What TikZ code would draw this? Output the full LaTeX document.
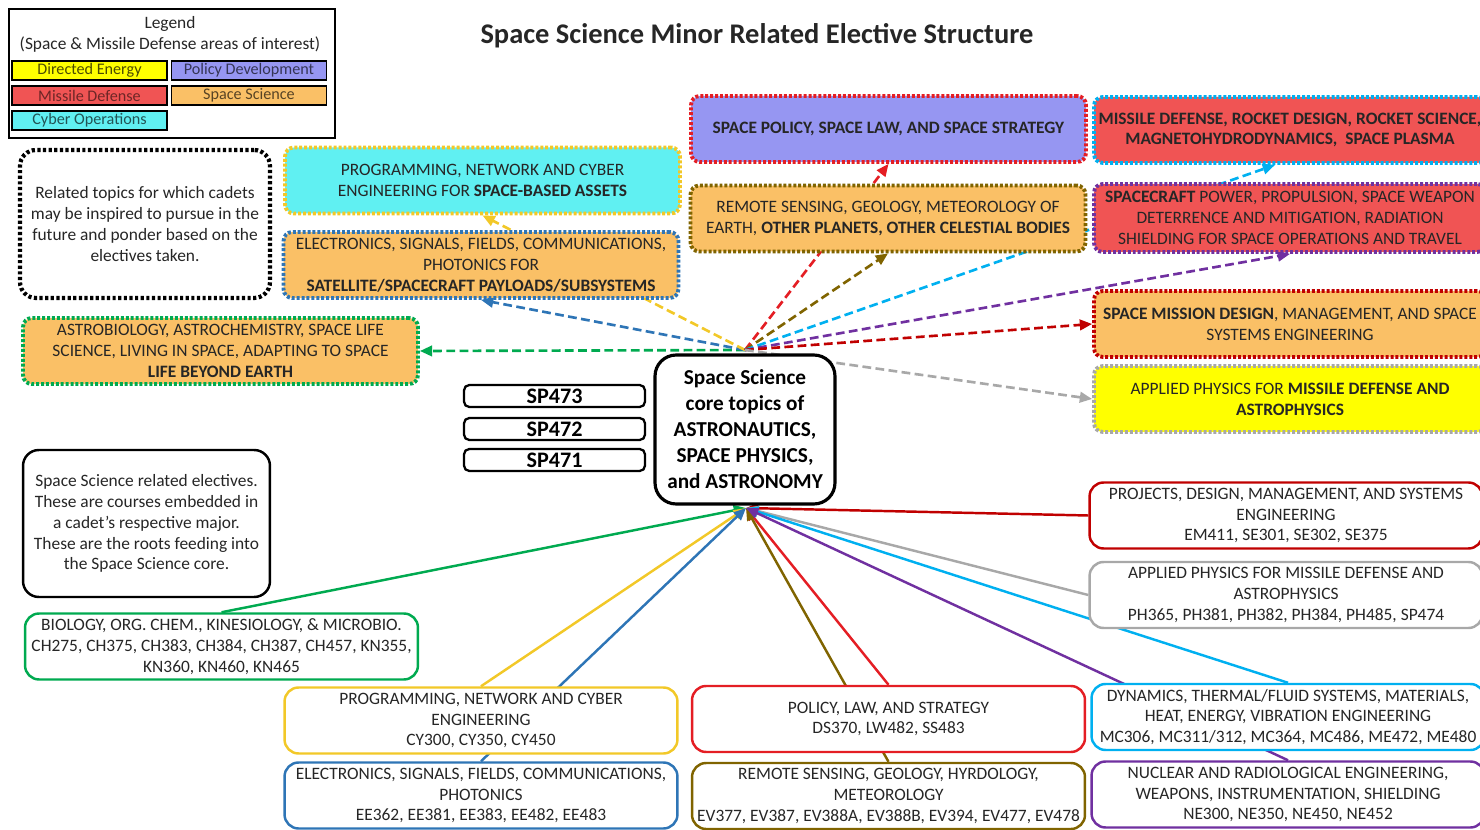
\documentclass[tikz,border=0pt]{standalone}
\usepackage{fontspec}
\setmainfont{Carlito}
\usetikzlibrary{arrows.meta,backgrounds}

% fills of the areas of interest
\definecolor{cYellow}{RGB}{255,255,0}
\definecolor{cPurple}{RGB}{150,150,242}
\definecolor{cRed}{RGB}{240,84,84}
\definecolor{cOrange}{RGB}{250,192,102}
\definecolor{cCyan}{RGB}{96,240,242}
% connector colours
\definecolor{lGreen}{RGB}{0,170,80}
\definecolor{lBlue}{RGB}{46,117,182}
\definecolor{lGold}{RGB}{242,200,40}
\definecolor{lRed}{RGB}{228,30,36}
\definecolor{lDarkRed}{RGB}{192,0,0}
\definecolor{lOlive}{RGB}{128,100,0}
\definecolor{lCyan}{RGB}{0,176,240}
\definecolor{lPurple}{RGB}{112,48,160}
\definecolor{lGray}{RGB}{168,168,168}
\definecolor{txt}{RGB}{38,38,38}

\newcommand\boxfont{\fontsize{9.9}{11.9}\selectfont}
\newcommand\corefont{\fontsize{12.1}{14.8}\selectfont\bfseries}

\tikzset{
  topic/.style={rounded corners=5pt, line width=2.2pt, dash pattern=on 1.7pt off 1.1pt,
    align=center, minimum width=7.9cm, minimum height=1.32cm, inner sep=1pt, text=txt, font=\boxfont},
  course/.style={draw, rounded corners=8pt, line width=1.4pt, fill=white, align=center,
    minimum width=7.86cm, minimum height=1.32cm, inner sep=1pt, text=txt, font=\boxfont},
  note/.style={draw=black, rounded corners=9pt, fill=white, align=center, text=txt, font=\boxfont},
  key/.style={draw=black, line width=1pt, minimum width=3.1cm, minimum height=0.38cm, inner sep=0pt,
    font=\fontsize{9.2}{11}\selectfont},
  spbox/.style={draw, line width=1.3pt, rounded corners=3pt, minimum width=3.62cm, minimum height=0.44cm,
    inner sep=0pt, font=\fontsize{12.6}{12.6}\selectfont\bfseries},
  feed/.style={line width=1.4pt, -{Triangle[length=7pt,width=6pt]}},
  inspire/.style={line width=1.5pt, dash pattern=on 5pt off 2.5pt, -{Triangle[length=7pt,width=6pt]}},
}

\begin{document}
\begin{tikzpicture}[x=0.02cm,y=-0.02cm]
\useasboundingbox (0,0) rectangle (1480,830);

% Legend
\node[draw, line width=0.8pt, minimum width=6.52cm, minimum height=2.58cm] (legend) at (172,73.5) {};
\node[align=center, font=\boxfont, text=txt] (legendTitle) at (170,34.5) {Legend\\(Space \& Missile Defense areas of interest)};
\node[key, fill=cYellow, text=cYellow!30!black] (keyDE) at (89.5,70.5) {Directed Energy};
\node[key, fill=cPurple, text=cPurple!35!black] (keyPD) at (249,70.5) {Policy Development};
\node[key, fill=cRed, text=cRed!45!black] (keyMD) at (89.5,95.5) {Missile Defense};
\node[key, fill=cOrange, text=cOrange!35!black] (keySS) at (249,95.5) {Space Science};
\node[key, fill=cCyan, text=cCyan!35!black] (keyCO) at (89.5,120.5) {Cyber Operations};

% Title
\node[font=\fontsize{16.2}{19}\selectfont\bfseries, text=txt] (title) at (757,36) {Space Science Minor Related Elective Structure};

% Notes
\node[note, line width=2.4pt, dash pattern=on 1.8pt off 1.4pt, minimum width=5cm, minimum height=2.96cm] (inspireNote) at (145,224)
  {Related topics for which cadets\\may be inspired to pursue in the\\future and ponder based on the\\electives taken.};
\node[note, line width=1.4pt, minimum width=4.94cm, minimum height=2.94cm] (rootNote) at (146.5,523.5)
  {Space Science related electives.\\These are courses embedded in\\a cadet’s respective major.\\These are the roots feeding into\\the Space Science core.};

% Core and SP courses
\node[draw, line width=1.8pt, rounded corners=12pt, fill=white, minimum width=3.6cm, minimum height=2.98cm,
  align=center, font=\corefont] (core) at (745,429.5) {Space Science\\core topics of\\ASTRONAUTICS,\\SPACE PHYSICS,\\and ASTRONOMY};
\node[spbox] (sp473) at (554.5,396) {SP473};
\node[spbox] (sp472) at (554.5,429) {SP472};
\node[spbox] (sp471) at (554.5,460) {SP471};
\coordinate (hubTop) at (745,350);
\coordinate (hubBot) at (746,508);

% Topics the core may inspire
\node[topic, fill=cCyan, draw=lGold] (cyberTop) at (482.5,180.5)
  {PROGRAMMING, NETWORK AND CYBER\\ENGINEERING FOR \textbf{SPACE-BASED ASSETS}};
\node[topic, fill=cOrange, draw=lBlue] (elecTop) at (481,265)
  {ELECTRONICS, SIGNALS, FIELDS, COMMUNICATIONS,\\PHOTONICS FOR\\\textbf{SATELLITE/SPACECRAFT PAYLOADS/SUBSYSTEMS}};
\node[topic, fill=cOrange, draw=lGreen] (lifeTop) at (220.5,351)
  {ASTROBIOLOGY, ASTROCHEMISTRY, SPACE LIFE\\SCIENCE, LIVING IN SPACE, ADAPTING TO SPACE\\\textbf{LIFE BEYOND EARTH}};
\node[topic, fill=cPurple, draw=lRed] (policyTop) at (888.5,129)
  {\textbf{SPACE POLICY, SPACE LAW, AND SPACE STRATEGY}};
\node[topic, fill=cOrange, draw=lOlive] (remoteTop) at (888,218.5)
  {REMOTE SENSING, GEOLOGY, METEOROLOGY OF\\EARTH, \textbf{OTHER PLANETS, OTHER CELESTIAL BODIES}};
\node[topic, fill=cRed, draw=lCyan, minimum width=7.84cm] (missileTop) at (1290,130)
  {\textbf{MISSILE DEFENSE, ROCKET DESIGN, ROCKET SCIENCE,}\\\textbf{MAGNETOHYDRODYNAMICS, \ SPACE PLASMA}};
\node[topic, fill=cRed, draw=lPurple, minimum width=7.84cm, minimum height=1.36cm] (craftTop) at (1290,218)
  {\textbf{SPACECRAFT} POWER, PROPULSION, SPACE WEAPON\\DETERRENCE AND MITIGATION, RADIATION\\SHIELDING FOR SPACE OPERATIONS AND TRAVEL};
\node[topic, fill=cOrange, draw=lDarkRed, minimum width=7.84cm] (missionTop) at (1290,324)
  {\textbf{SPACE MISSION DESIGN}, MANAGEMENT, AND SPACE\\SYSTEMS ENGINEERING};
\node[topic, fill=cYellow, draw=lGray, minimum width=7.84cm] (physTop) at (1290,399)
  {APPLIED PHYSICS FOR \textbf{MISSILE DEFENSE AND}\\\textbf{ASTROPHYSICS}};

% Elective roots
\node[course, draw=lGreen] (bioC) at (221.5,646.5)
  {BIOLOGY, ORG. CHEM., KINESIOLOGY, \& MICROBIO.\\CH275, CH375, CH383, CH384, CH387, CH457, KN355,\\KN360, KN460, KN465};
\node[course, draw=lGold] (cyC) at (481,720.5)
  {PROGRAMMING, NETWORK AND CYBER\\ENGINEERING\\CY300, CY350, CY450};
\node[course, draw=lBlue] (eeC) at (481,795.5)
  {ELECTRONICS, SIGNALS, FIELDS, COMMUNICATIONS,\\PHOTONICS\\EE362, EE381, EE383, EE482, EE483};
\node[course, draw=lRed] (polC) at (888.5,719)
  {POLICY, LAW, AND STRATEGY\\DS370, LW482, SS483};
\node[course, draw=lOlive] (evC) at (888.5,796)
  {REMOTE SENSING, GEOLOGY, HYRDOLOGY,\\METEOROLOGY\\EV377, EV387, EV388A, EV388B, EV394, EV477, EV478};
\node[course, draw=lDarkRed] (projC) at (1286,515.5)
  {PROJECTS, DESIGN, MANAGEMENT, AND SYSTEMS\\ENGINEERING\\EM411, SE301, SE302, SE375};
\node[course, draw=lGray] (physC) at (1286,595)
  {APPLIED PHYSICS FOR MISSILE DEFENSE AND\\ASTROPHYSICS\\PH365, PH381, PH382, PH384, PH485, SP474};
\node[course, draw=lCyan] (mechC) at (1288,717)
  {DYNAMICS, THERMAL/FLUID SYSTEMS, MATERIALS,\\HEAT, ENERGY, VIBRATION ENGINEERING\\MC306, MC311/312, MC364, MC486, ME472, ME480};
\node[course, draw=lPurple] (nucC) at (1288,794.5)
  {NUCLEAR AND RADIOLOGICAL ENGINEERING,\\WEAPONS, INSTRUMENTATION, SHIELDING\\NE300, NE350, NE450, NE452};

\begin{scope}[on background layer]
  % Roots feeding the core
  \draw[feed, lGreen] (bioC.north) -- (hubBot);
  \draw[feed, lGold] (cyC.north) -- (hubBot);
  \draw[feed, lBlue] (eeC.north) -- (hubBot);
  \draw[feed, lRed] (polC.north) -- (hubBot);
  \draw[feed, lOlive] (evC.north) -- (hubBot);
  \draw[feed, lDarkRed] (projC.west) -- (hubBot);
  \draw[feed, lGray] (physC.west) -- (hubBot);
  \draw[feed, lCyan] (mechC.north) -- (hubBot);
  \draw[feed, lPurple] (nucC.north) -- (hubBot);
  % Topics inspired by the core
  \draw[inspire, lGreen] (hubTop) -- (lifeTop.east);
  \draw[inspire, lBlue] (hubTop) -- (elecTop.south);
  \draw[inspire, lGold] (hubTop) -- (cyberTop.south);
  \draw[inspire, lRed] (hubTop) -- (policyTop.south);
  \draw[inspire, lOlive] (hubTop) -- (remoteTop.south);
  \draw[inspire, lCyan] (hubTop) -- ([xshift=-0.3cm]missileTop.south);
  \draw[inspire, lPurple] (hubTop) -- (craftTop.south);
  \draw[inspire, lDarkRed] (hubTop) -- (missionTop.west);
  \draw[inspire, lGray] (hubTop) -- (physTop.west);
\end{scope}
\end{tikzpicture}
\end{document}
